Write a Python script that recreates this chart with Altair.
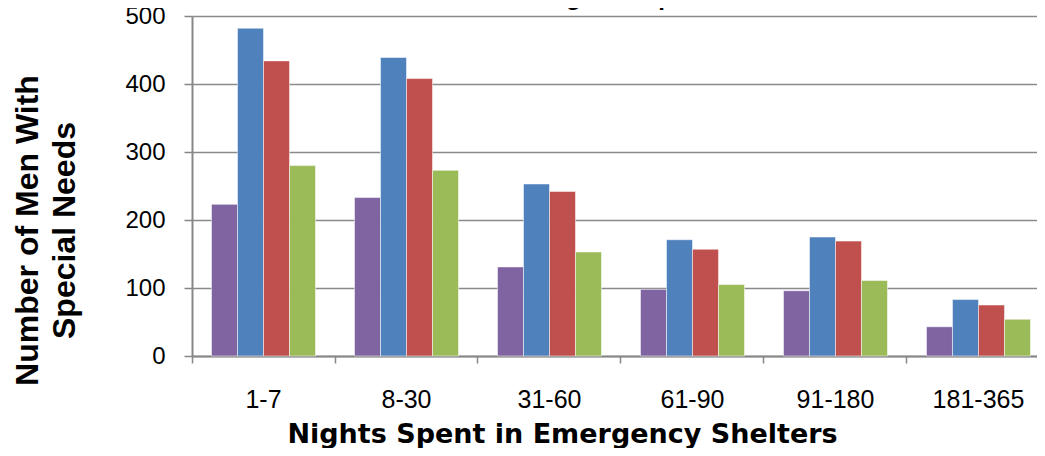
import altair as alt
import pandas as pd

categories = ["1-7", "8-30", "31-60", "61-90", "91-180", "181-365"]
series = ["Group 1", "Group 2", "Group 3", "Group 4"]
colors = ["#8064A2", "#4F81BD", "#C0504D", "#9BBB59"]
group1 = [223, 233, 131, 98, 96, 43]
group2 = [482, 439, 253, 171, 175, 83]
group3 = [434, 408, 242, 157, 169, 75]
group4 = [280, 273, 153, 105, 111, 54]
title_text = "Age Group"
y_title = ["Number of Men With", "Special Needs"]
x_title = "Nights Spent in Emergency Shelters"
y_ticks = [0, 100, 200, 300, 400, 500]

rows = []
for s, vals in zip(series, [group1, group2, group3, group4]):
    for c, v in zip(categories, vals):
        rows.append({"category": c, "series": s, "value": v})
df = pd.DataFrame(rows)

GRAY = "#878787"

bars = alt.Chart(df).mark_bar(stroke="white", strokeWidth=1, strokeOpacity=0.5).encode(
    x=alt.X(
        "category:N",
        sort=categories,
        scale=alt.Scale(domain=categories, range=[0, 858], paddingInner=0.2727, paddingOuter=0.1364),
        axis=alt.Axis(
            title=x_title,
            titleFont="DejaVu Sans",
            titleFontWeight="bold",
            titleFontSize=27,
            titleColor="black",
            titleX=370,
            titleY=86,
            titleAlign="center",
            titleBaseline="alphabetic",
            labelFont="Liberation Sans",
            labelFontSize=25,
            labelColor="black",
            labelAngle=0,
            labelPadding=24,
            labelBaseline="top",
            bandPosition=-0.1875,
            tickSize=7,
            tickColor=GRAY,
            tickWidth=1.5,
            domainColor=GRAY,
            domainWidth=2,
            grid=False,
        ),
    ),
    xOffset=alt.XOffset("series:N", sort=series, scale=alt.Scale(domain=series, paddingInner=0, paddingOuter=0)),
    y=alt.Y(
        "value:Q",
        scale=alt.Scale(domain=[0, 500], nice=False),
        axis=alt.Axis(
            title=y_title,
            titleFont="Liberation Sans",
            titleFontWeight="bold",
            titleFontSize=32,
            titleColor="black",
            titleAngle=270,
            titleAlign="center",
            titleBaseline="alphabetic",
            titleX=-155,
            titleY=214,
            titleLineHeight=37,
            values=y_ticks,
            labelFont="Liberation Sans",
            labelFontSize=24,
            labelColor="black",
            labelPadding=19,
            tickSize=8,
            tickColor=GRAY,
            tickWidth=1.5,
            domainColor=GRAY,
            domainWidth=2,
            grid=True,
            gridColor="#8a8a8a",
            gridWidth=1.5,
        ),
    ),
    color=alt.Color("series:N", scale=alt.Scale(domain=series, range=colors), legend=None),
)

title_df = pd.DataFrame({"t": [title_text]})
title = alt.Chart(title_df).mark_text(
    font="Liberation Sans", fontWeight="bold", fontSize=24, baseline="alphabetic", align="center", color="black"
).encode(text="t:N", x=alt.value(419), y=alt.value(-11))

chart = alt.layer(bars, title).properties(
    width=845,
    height=340,
    autosize=alt.AutoSizeParams(type="none"),
    padding={"left": 184, "top": 8, "right": 0, "bottom": 92},
).configure_view(stroke=None).configure(background="white")

chart.save("out.html", embed_options={"renderer": "svg", "actions": False})
